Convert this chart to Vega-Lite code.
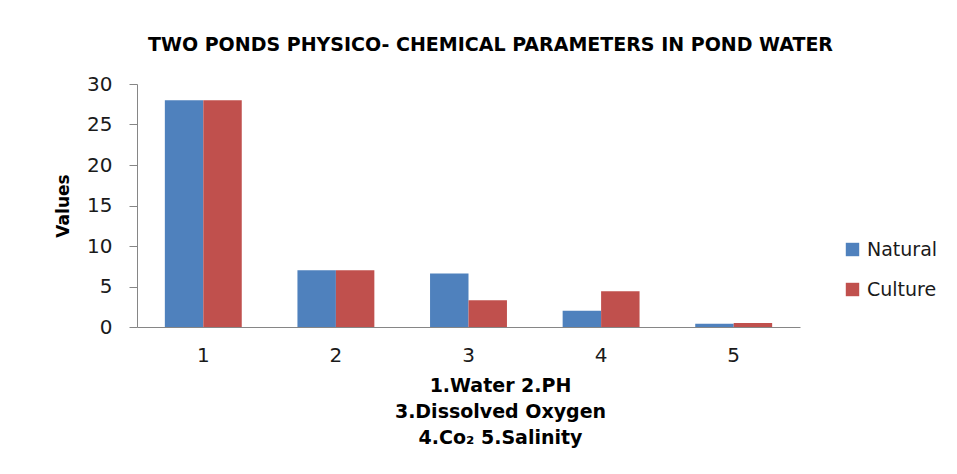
{
  "$schema": "https://vega.github.io/schema/vega-lite/v6.json",
  "width": 663,
  "height": 243,
  "autosize": {"type": "none"},
  "padding": {"left": 137, "top": 84, "right": 157, "bottom": 147},
  "background": "white",
  "title": {
    "text": "TWO PONDS PHYSICO- CHEMICAL PARAMETERS IN POND WATER",
    "font": "DejaVu Sans",
    "fontSize": 19,
    "fontWeight": "bold",
    "color": "black",
    "anchor": "middle",
    "dx": 22,
    "offset": 19
  },
  "data": {
    "values": [
      {"param": "1", "pond": "Natural", "value": 28},
      {"param": "1", "pond": "Culture", "value": 28},
      {"param": "2", "pond": "Natural", "value": 7},
      {"param": "2", "pond": "Culture", "value": 7},
      {"param": "3", "pond": "Natural", "value": 6.6},
      {"param": "3", "pond": "Culture", "value": 3.3},
      {"param": "4", "pond": "Natural", "value": 2.0},
      {"param": "4", "pond": "Culture", "value": 4.4},
      {"param": "5", "pond": "Natural", "value": 0.4},
      {"param": "5", "pond": "Culture", "value": 0.5}
    ]
  },
  "mark": {"type": "bar"},
  "encoding": {
    "x": {
      "field": "param",
      "type": "ordinal",
      "scale": {"paddingInner": 0.42, "paddingOuter": 0.21},
      "axis": {
        "labelAngle": 0,
        "ticks": false,
        "domainColor": "#868686",
        "labelFont": "DejaVu Sans",
        "labelFontSize": 20,
        "labelColor": "#1a1a1a",
        "labelPadding": 18,
        "title": ["1.Water 2.PH", "3.Dissolved Oxygen", "4.Co₂ 5.Salinity"],
        "titleFont": "DejaVu Sans",
        "titleFontSize": 19,
        "titleFontWeight": "bold",
        "titleColor": "black",
        "titleLineHeight": 26,
        "titlePadding": 11,
        "titleX": 363,
        "titleAlign": "center"
      }
    },
    "xOffset": {"field": "pond", "sort": ["Natural", "Culture"]},
    "y": {
      "field": "value",
      "type": "quantitative",
      "scale": {"domain": [0, 30]},
      "axis": {
        "values": [0, 5, 10, 15, 20, 25, 30],
        "grid": false,
        "tickSize": 8,
        "tickColor": "#868686",
        "domainColor": "#868686",
        "labelFont": "DejaVu Sans",
        "labelFontSize": 20,
        "labelColor": "#1a1a1a",
        "labelPadding": 17,
        "title": "Values",
        "titleFont": "DejaVu Sans",
        "titleFontSize": 17,
        "titleFontWeight": "bold",
        "titleColor": "black",
        "titlePadding": 14
      }
    },
    "color": {
      "field": "pond",
      "type": "nominal",
      "sort": ["Natural", "Culture"],
      "scale": {"range": ["#4F81BD", "#C0504D"]},
      "legend": {
        "title": null,
        "orient": "none",
        "legendX": 706,
        "legendY": 156,
        "symbolType": "square",
        "symbolSize": 180,
        "symbolStrokeWidth": 0,
        "labelFont": "DejaVu Sans",
        "labelFontSize": 19,
        "labelColor": "#1a1a1a",
        "labelOffset": 5,
        "rowPadding": 20
      }
    }
  },
  "config": {"view": {"stroke": null}}
}
